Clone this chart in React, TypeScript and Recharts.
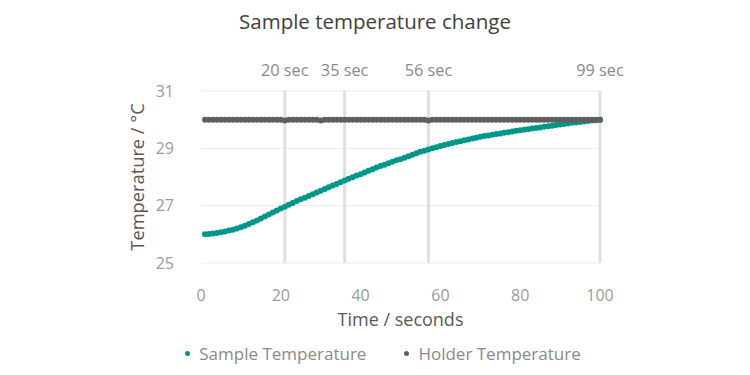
import React from "react";
import {
  LineChart, Line, XAxis, YAxis, CartesianGrid, ReferenceLine,
} from "recharts";

const FONT = "'Open Sans', 'Noto Sans', sans-serif";

// seconds 1..100
const sampleTemp = [
  26.00, 26.01, 26.03, 26.05, 26.07, 26.10, 26.13, 26.16, 26.20, 26.25,
  26.30, 26.36, 26.42, 26.48, 26.55, 26.62, 26.69, 26.76, 26.83, 26.90,
  26.96, 27.03, 27.09, 27.16, 27.22, 27.28, 27.34, 27.40, 27.46, 27.52,
  27.58, 27.64, 27.70, 27.76, 27.82, 27.88, 27.94, 27.99, 28.05, 28.10,
  28.16, 28.22, 28.27, 28.33, 28.38, 28.43, 28.48, 28.53, 28.58, 28.62,
  28.67, 28.72, 28.78, 28.83, 28.88, 28.92, 28.96, 29.00, 29.04, 29.08,
  29.12, 29.15, 29.19, 29.22, 29.25, 29.28, 29.31, 29.34, 29.37, 29.40,
  29.43, 29.45, 29.47, 29.50, 29.52, 29.54, 29.56, 29.59, 29.61, 29.63,
  29.65, 29.67, 29.69, 29.71, 29.73, 29.75, 29.77, 29.79, 29.81, 29.83,
  29.85, 29.87, 29.89, 29.90, 29.92, 29.94, 29.95, 29.97, 29.98, 30.00,
];

const holderTemp = [
  30, 30, 30, 30, 30, 30, 30, 30, 30, 30,
  30, 30, 30, 30, 30, 30, 30, 30, 30, 30,
  29.97, 30, 30, 30, 30, 30, 30, 30, 30, 29.97,
  30, 30, 30, 30, 30, 30, 30, 30, 30, 30,
  30, 30, 30, 30, 30, 30, 30, 30, 30, 30,
  30, 30, 30, 30, 30, 30, 29.97, 30, 30, 30,
  30, 30, 30, 30, 30, 30, 30, 30, 30, 30,
  30, 30, 30, 30, 30, 30, 30, 30, 30, 30,
  30, 30, 30, 30, 30, 30, 30, 30, 30, 30,
  30, 30, 30, 30, 30, 30, 30, 30, 30, 30,
];

const markerSecs = [20, 35, 56, 99];
const xTicks = [0, 20, 40, 60, 80, 100];
const yTicks = [25, 27, 29, 31];

const SERIES = [
  { key: "sample", name: "Sample Temperature", color: "#009688" },
  { key: "holder", name: "Holder Temperature", color: "#5e5e5e" },
];

const data = sampleTemp.map((v, i) => ({ t: i + 1, sample: v, holder: holderTemp[i] }));

export default function App() {
  return (
    <div style={{ position: "absolute", left: 0, top: 0, width: 750, height: 375, background: "#fff", fontFamily: FONT }}>
      <div style={{ position: "absolute", top: 7, width: 750, textAlign: "center", fontSize: 20.5, color: "#404040" }}>
        Sample temperature change
      </div>
      <LineChart width={750} height={375} data={data} margin={{ top: 91, right: 150, left: 121, bottom: 52 }}>
        <CartesianGrid horizontal vertical={false} stroke="#ececec" />
        <XAxis
          dataKey="t" type="number" domain={[0, 100]} ticks={xTicks}
          axisLine={false} tickLine={false} tickSize={0} tickMargin={27} height={60}
          tick={{ fontSize: 16, fill: "#9a9a9a", fontFamily: FONT }}
          label={{ value: "Time / seconds", position: "insideBottom", offset: -3, fontSize: 18, fill: "#595959", fontFamily: FONT }}
        />
        <YAxis
          domain={[25, 31]} ticks={yTicks} width={80}
          axisLine={false} tickLine={false} tickSize={0} tickMargin={27}
          tick={{ fontSize: 16, fill: "#9a9a9a", fontFamily: FONT }}
          label={{
            content: ({ viewBox }: any) => {
              const cx = viewBox.x + 15;
              const cy = viewBox.y + viewBox.height / 2;
              return (
                <text x={cx} y={cy} transform={`rotate(-90 ${cx} ${cy})`} textAnchor="middle" dominantBaseline="central"
                  fontSize={18.3} fill="#595959" fontFamily={FONT}>
                  Temperature / °C
                </text>
              );
            },
          }}
        />
        {markerSecs.map((s) => (
          <ReferenceLine key={s} x={s + 1} stroke="#e0e0e0" strokeWidth={3}
            label={{ value: `${s} sec`, position: "top", offset: 15, fontSize: 16.3, fill: "#8a8a8a", fontFamily: FONT }} />
        ))}
        {SERIES.map((s) => (
          <Line key={s.key} dataKey={s.key} name={s.name} stroke="none" isAnimationActive={false}
            dot={{ r: 3, fill: s.color, stroke: "none" }} activeDot={false} />
        ))}
      </LineChart>
      <div style={{ position: "absolute", top: 342, left: 0, width: 750, boxSizing: "border-box", paddingLeft: 16, display: "flex", justifyContent: "center", gap: 38, fontSize: 17, color: "#8a8a8a" }}>
        {SERIES.map((s) => (
          <div key={s.key} style={{ display: "flex", alignItems: "center" }}>
            <span style={{ display: "inline-block", width: 5, height: 5, borderRadius: 3, background: s.color, marginRight: 9 }} />
            {s.name}
          </div>
        ))}
      </div>
    </div>
  );
}
